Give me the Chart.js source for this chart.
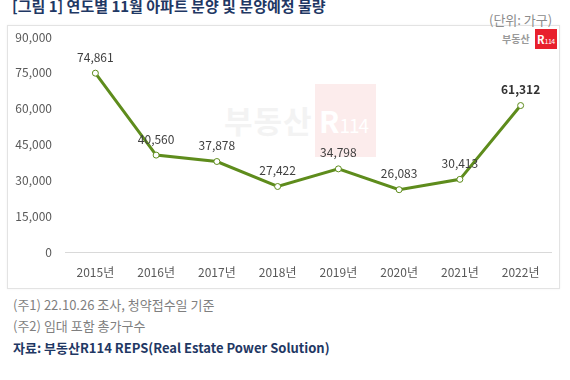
<!DOCTYPE html>
<html>
<head>
<meta charset="utf-8">
<script src="https://cdn.jsdelivr.net/npm/chart.js@4"></script>
<style>
  html, body { margin: 0; padding: 0; background: #fff; }
  body { width: 570px; height: 380px; position: relative; overflow: hidden; font-family: "Noto Sans CJK KR", "Noto Sans", sans-serif; }
  .abs { position: absolute; white-space: nowrap; }
  #frame { position: absolute; left: 7px; top: 25px; width: 553px; height: 264px; border: 1px solid #e3e3e3; box-sizing: border-box; box-shadow: 0 0 2px rgba(0,0,0,0.06); }
  #title { left: 12px; top: -4px; font-size: 15px; font-weight: bold; color: #1f3864; line-height: 20px; }
  #unit { left: 489px; top: 11px; font-size: 13px; color: #8c8c8c; line-height: 18px; }
  .note { left: 13px; font-size: 13px; color: #7f7f7f; line-height: 18px; }
  #src { left: 13px; top: 339px; font-size: 13px; font-weight: bold; color: #1f3864; line-height: 18px; }
  #wm1 { left: 224px; top: 100px; font-size: 31px; font-weight: bold; color: #f3f3f3; line-height: 40px; letter-spacing: 1px; }
  #wmbox { position: absolute; left: 315px; top: 84px; width: 61px; height: 73px; background: #fcecec; }
  #wm2 { left: 319px; top: 100px; font-size: 30px; font-weight: bold; color: #ffffff; line-height: 40px; }
  #wm2 span { font-size: 19px; font-weight: normal; letter-spacing: -1px; }
  #logo1 { left: 502px; top: 32px; font-size: 10px; font-weight: bold; color: #9a9a9a; line-height: 14px; }
  #logobox { position: absolute; left: 535px; top: 29px; width: 22px; height: 20px; background: #e8202d; }
  #logo2 { left: 537px; top: 32px; font-size: 11px; font-weight: bold; color: #fff; line-height: 14px; }
  #logo2 span { font-size: 7px; font-weight: normal; letter-spacing: -0.5px; }
  canvas { position: absolute; left: 0; top: 0; }
</style>
</head>
<body>
<div id="frame"></div>
<div id="wmbox"></div>
<div class="abs" id="wm1">부동산</div>
<div class="abs" id="wm2">R<span>114</span></div>
<div class="abs" id="title">[그림 1] 연도별 11월 아파트 분양 및 분양예정 물량</div>
<div class="abs" id="unit">(단위: 가구)</div>
<div class="abs" id="logo1">부동산</div>
<div id="logobox"></div>
<div class="abs" id="logo2">R<span>114</span></div>
<div class="abs note" style="top:296px">(주1) 22.10.26 조사, 청약접수일 기준</div>
<div class="abs note" style="top:317px">(주2) 임대 포함 총가구수</div>
<div class="abs" id="src">자료: 부동산R114 REPS(Real Estate Power Solution)</div>
<canvas id="c" width="570" height="380"></canvas>
<script>
const years = ["2015년", "2016년", "2017년", "2018년", "2019년", "2020년", "2021년", "2022년"];
const supply = [74861, 40560, 37878, 27422, 34798, 26083, 30413, 61312];
const yTicks = [0, 15000, 30000, 45000, 60000, 75000, 90000];

const FONT = '"Noto Sans CJK KR", "Noto Sans", sans-serif';
const fmt = v => v.toLocaleString('en-US');

const labelPlugin = {
  id: 'pointLabels',
  afterDatasetsDraw(chart) {
    const ctx = chart.ctx;
    const meta = chart.getDatasetMeta(0);
    ctx.save();
    ctx.textAlign = 'center';
    ctx.textBaseline = 'middle';
    meta.data.forEach((pt, i) => {
      const last = i === supply.length - 1;
      ctx.font = (last ? 'bold ' : '') + '12px ' + FONT;
      ctx.fillStyle = last ? '#333333' : '#404040';
      ctx.fillText(fmt(supply[i]), pt.x, pt.y - 16);
    });
    ctx.restore();
  }
};

new Chart(document.getElementById('c'), {
  type: 'line',
  data: {
    labels: years,
    datasets: [{
      data: supply,
      borderColor: '#5e8c1c',
      borderWidth: 3,
      pointRadius: 3,
      pointBorderWidth: 1,
      pointBackgroundColor: '#ffffff',
      pointBorderColor: '#5e8c1c',
      tension: 0,
      clip: false
    }]
  },
  options: {
    responsive: false,
    animation: false,
    devicePixelRatio: 1,
    layout: { padding: { left: 0, right: 19, top: 37, bottom: 98 } },
    plugins: { legend: { display: false }, tooltip: { enabled: false }, title: { display: false } },
    scales: {
      x: {
        offset: true,
        grid: { display: false, drawTicks: false },
        border: { display: true, color: '#d9d9d9', width: 1 },
        ticks: { color: '#595959', font: { family: FONT, size: 12 }, padding: 13, maxRotation: 0 },
        afterFit: s => { s.height = 30; }
      },
      y: {
        min: 0, max: 90000,
        afterBuildTicks: s => { s.ticks = yTicks.map(v => ({ value: v })); },
        grid: { display: false, drawTicks: false },
        border: { display: false },
        ticks: { color: '#595959', font: { family: FONT, size: 12 }, padding: 13, callback: v => fmt(v) },
        afterFit: s => { s.width = 65; }
      }
    }
  },
  plugins: [labelPlugin]
});
</script>
</body>
</html>
